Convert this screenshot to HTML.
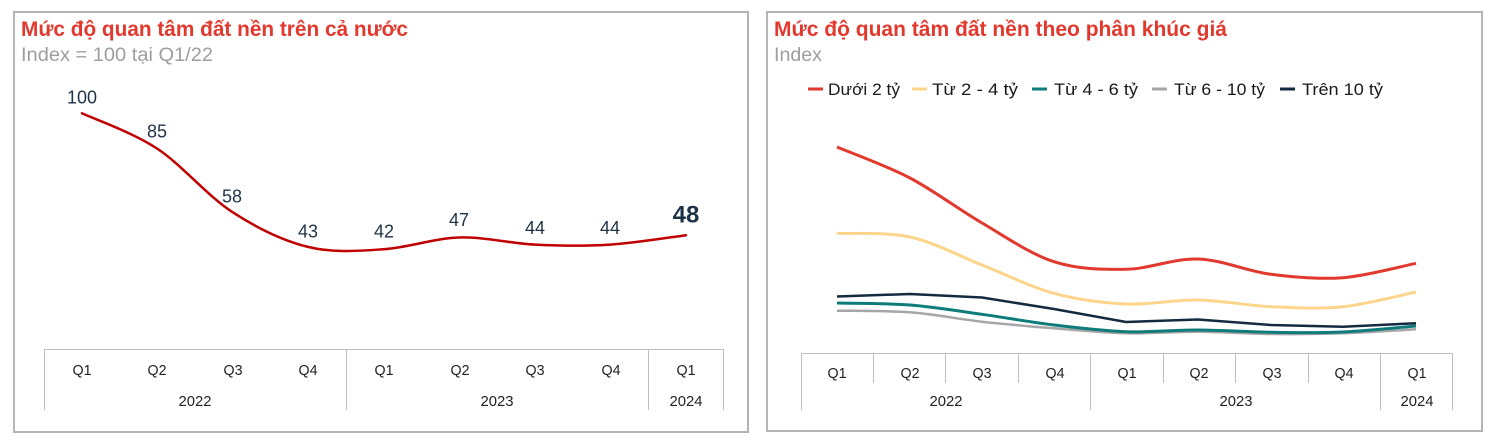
<!DOCTYPE html>
<html>
<head>
<meta charset="utf-8">
<style>
html,body{margin:0;padding:0;background:#fff;}
svg{display:block;}
text{font-family:"Liberation Sans","Noto Sans CJK SC",sans-serif;}
</style>
</head>
<body>
<svg width="1498" height="436" viewBox="0 0 1498 436" xmlns="http://www.w3.org/2000/svg">
<rect x="0" y="0" width="1498" height="436" fill="#fff"/>
<!-- panels -->
<rect x="14" y="12" width="734" height="420" fill="none" stroke="#b4b4b4" stroke-width="2"/>
<rect x="767" y="12" width="715" height="419" fill="none" stroke="#b4b4b4" stroke-width="2"/>

<!-- LEFT titles -->
<text x="21" y="36" font-size="21" font-weight="bold" fill="#e2392e" textLength="387" lengthAdjust="spacingAndGlyphs">Mức độ quan tâm đất nền trên cả nước</text>
<text x="21" y="61" font-size="19" fill="#9e9e9e" textLength="192" lengthAdjust="spacingAndGlyphs">Index = 100 tại Q1/22</text>

<!-- LEFT line -->
<path d="M82,113.3 C94.5,119.2 132,132.1 157,148.5 C182,164.9 206.8,195.4 232,211.8 C257.2,228.2 282.8,240.65 308,246.9 C333.2,253.15 357.8,250.87 383,249.3 C408.2,247.7 433.7,238.3 459,237.5 C484.3,236.7 509.8,243.4 535,244.6 C560.2,245.8 584.8,246.2 610,244.6 C635.2,243 673.3,236.8 686,235.2" fill="none" stroke="#c00000" stroke-width="2.5" stroke-linecap="round"/>

<!-- LEFT labels -->
<g font-size="18" fill="#1f3347" text-anchor="middle">
<text x="82" y="103.5">100</text>
<text x="157" y="137.5">85</text>
<text x="232" y="202.5">58</text>
<text x="308" y="237.5">43</text>
<text x="384" y="237.5">42</text>
<text x="459" y="226">47</text>
<text x="535" y="234">44</text>
<text x="610" y="234">44</text>
</g>
<text x="686" y="222.5" font-size="24" font-weight="bold" fill="#1f3347" text-anchor="middle">48</text>

<!-- LEFT axis -->
<g stroke="#bfbfbf" stroke-width="1" fill="none">
<line x1="44" y1="349.5" x2="724" y2="349.5"/>
<line x1="44.5" y1="349" x2="44.5" y2="410"/>
<line x1="346.5" y1="349" x2="346.5" y2="410"/>
<line x1="648.5" y1="349" x2="648.5" y2="410"/>
<line x1="723.5" y1="349" x2="723.5" y2="410"/>
</g>
<g font-size="15" fill="#222" text-anchor="middle">
<text x="82" y="375" textLength="19" lengthAdjust="spacingAndGlyphs">Q1</text>
<text x="157" y="375" textLength="19" lengthAdjust="spacingAndGlyphs">Q2</text>
<text x="233" y="375" textLength="19" lengthAdjust="spacingAndGlyphs">Q3</text>
<text x="308" y="375" textLength="19" lengthAdjust="spacingAndGlyphs">Q4</text>
<text x="384" y="375" textLength="19" lengthAdjust="spacingAndGlyphs">Q1</text>
<text x="460" y="375" textLength="19" lengthAdjust="spacingAndGlyphs">Q2</text>
<text x="535" y="375" textLength="19" lengthAdjust="spacingAndGlyphs">Q3</text>
<text x="611" y="375" textLength="19" lengthAdjust="spacingAndGlyphs">Q4</text>
<text x="686" y="375" textLength="19" lengthAdjust="spacingAndGlyphs">Q1</text>
<text x="195" y="406" textLength="33" lengthAdjust="spacingAndGlyphs">2022</text>
<text x="497" y="406" textLength="33" lengthAdjust="spacingAndGlyphs">2023</text>
<text x="686" y="406" textLength="33" lengthAdjust="spacingAndGlyphs">2024</text>
</g>

<!-- RIGHT titles -->
<text x="774" y="36" font-size="21" font-weight="bold" fill="#e2392e" textLength="453" lengthAdjust="spacingAndGlyphs">Mức độ quan tâm đất nền theo phân khúc giá</text>
<text x="774" y="61" font-size="19" fill="#9e9e9e" textLength="48" lengthAdjust="spacingAndGlyphs">Index</text>

<!-- RIGHT legend -->
<g stroke-width="3">
<line x1="808" y1="89" x2="823" y2="89" stroke="#e2392e"/>
<line x1="912" y1="89" x2="927" y2="89" stroke="#fdd58a"/>
<line x1="1032" y1="89" x2="1047" y2="89" stroke="#0e7c7b"/>
<line x1="1152" y1="89" x2="1167" y2="89" stroke="#a6a6a6"/>
<line x1="1280" y1="89" x2="1295" y2="89" stroke="#142a40"/>
</g>
<g font-size="17" fill="#1a1a1a">
<text x="828" y="95" textLength="72" lengthAdjust="spacingAndGlyphs">Dưới 2 tỷ</text>
<text x="932" y="95" textLength="86" lengthAdjust="spacingAndGlyphs">Từ 2 - 4 tỷ</text>
<text x="1054" y="95" textLength="84" lengthAdjust="spacingAndGlyphs">Từ 4 - 6 tỷ</text>
<text x="1174" y="95" textLength="91" lengthAdjust="spacingAndGlyphs">Từ 6 - 10 tỷ</text>
<text x="1302" y="95" textLength="81" lengthAdjust="spacingAndGlyphs">Trên 10 tỷ</text>
</g>

<!-- RIGHT series -->
<path d="M837,310.7 C849.2,310.97 885.8,310.47 910,312.3 C934.2,314.13 958,319.03 982,321.7 C1006,324.37 1030,326.37 1054,328.3 C1078,330.23 1102,332.73 1126,333.3 C1150,333.87 1173.8,331.58 1198,331.7 C1222.2,331.82 1246.8,333.73 1271,334 C1295.2,334.27 1318.8,334.08 1343,333.3 C1367.2,332.52 1403.8,330 1416,329.3" fill="none" stroke="#a6a6a6" stroke-width="2.5"/>
<path d="M837,303 C849.2,303.33 885.8,303.12 910,305 C934.2,306.88 958,310.97 982,314.3 C1006,317.63 1030,322.1 1054,325 C1078,327.9 1102,330.87 1126,331.7 C1150,332.53 1173.8,329.9 1198,330 C1222.2,330.1 1246.8,331.97 1271,332.3 C1295.2,332.63 1318.8,333.05 1343,332 C1367.2,330.95 1403.8,327 1416,326" fill="none" stroke="#0e7c7b" stroke-width="3"/>
<polyline points="837,296.5 910,294 982,297.5 1054,309 1126,322 1198,319.5 1271,325 1343,326.7 1416,323.3" fill="none" stroke="#142a40" stroke-width="2.5" stroke-linejoin="round"/>
<path d="M837,233.3 C849.2,234.08 885.8,231.72 910,237 C934.2,242.28 958,255.62 982,265 C1006,274.38 1030,286.8 1054,293.3 C1078,299.8 1102,302.88 1126,304 C1150,305.12 1173.8,299.55 1198,300 C1222.2,300.45 1246.8,305.58 1271,306.7 C1295.2,307.82 1318.8,309.15 1343,306.7 C1367.2,304.25 1403.8,294.45 1416,292" fill="none" stroke="#fdd58a" stroke-width="3"/>
<path d="M837,147 C849.2,152.2 885.8,165.3 910,178 C934.2,190.7 958,209.05 982,223 C1006,236.95 1030,253.98 1054,261.7 C1078,269.4 1102,269.75 1126,269.3 C1150,268.85 1173.8,258.17 1198,259 C1222.2,259.83 1246.8,271.18 1271,274.3 C1295.2,277.42 1318.8,279.53 1343,277.7 C1367.2,275.87 1403.8,265.7 1416,263.3" fill="none" stroke="#e2392e" stroke-width="3"/>

<!-- RIGHT axis -->
<g stroke="#bfbfbf" stroke-width="1" fill="none">
<line x1="801" y1="353.5" x2="1453" y2="353.5"/>
<line x1="801.5" y1="353" x2="801.5" y2="410"/>
<line x1="1090.5" y1="353" x2="1090.5" y2="410"/>
<line x1="1380.5" y1="353" x2="1380.5" y2="410"/>
<line x1="1452.5" y1="353" x2="1452.5" y2="410"/>
<line x1="873.5" y1="353" x2="873.5" y2="383"/>
<line x1="945.5" y1="353" x2="945.5" y2="383"/>
<line x1="1018.5" y1="353" x2="1018.5" y2="383"/>
<line x1="1163.5" y1="353" x2="1163.5" y2="383"/>
<line x1="1235.5" y1="353" x2="1235.5" y2="383"/>
<line x1="1308.5" y1="353" x2="1308.5" y2="383"/>
</g>
<g font-size="15" fill="#222" text-anchor="middle">
<text x="837" y="378" textLength="19" lengthAdjust="spacingAndGlyphs">Q1</text>
<text x="910" y="378" textLength="19" lengthAdjust="spacingAndGlyphs">Q2</text>
<text x="982" y="378" textLength="19" lengthAdjust="spacingAndGlyphs">Q3</text>
<text x="1055" y="378" textLength="19" lengthAdjust="spacingAndGlyphs">Q4</text>
<text x="1127" y="378" textLength="19" lengthAdjust="spacingAndGlyphs">Q1</text>
<text x="1199" y="378" textLength="19" lengthAdjust="spacingAndGlyphs">Q2</text>
<text x="1272" y="378" textLength="19" lengthAdjust="spacingAndGlyphs">Q3</text>
<text x="1344" y="378" textLength="19" lengthAdjust="spacingAndGlyphs">Q4</text>
<text x="1417" y="378" textLength="19" lengthAdjust="spacingAndGlyphs">Q1</text>
<text x="946" y="406" textLength="33" lengthAdjust="spacingAndGlyphs">2022</text>
<text x="1236" y="406" textLength="33" lengthAdjust="spacingAndGlyphs">2023</text>
<text x="1417" y="406" textLength="33" lengthAdjust="spacingAndGlyphs">2024</text>
</g>
</svg>
</body>
</html>
